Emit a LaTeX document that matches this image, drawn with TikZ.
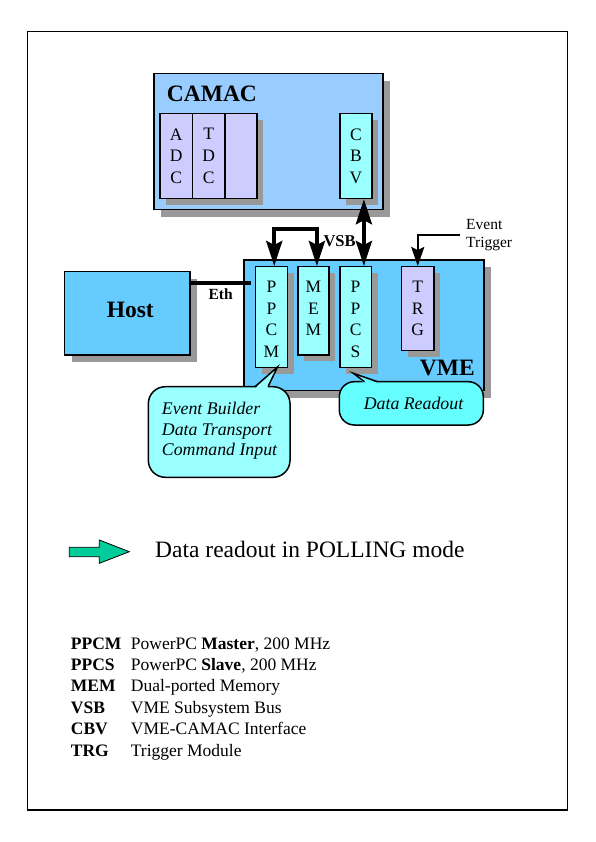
\documentclass[tikz,border=0pt]{standalone}
\usepackage{fontspec}
\setmainfont{Liberation Serif}
\usetikzlibrary{arrows.meta,shadows}
\definecolor{camacC}{HTML}{99CCFF}
\definecolor{vmeC}{HTML}{66CCFF}
\definecolor{lilaC}{HTML}{CCCCFF}
\definecolor{cyanC}{HTML}{99FFFF}
\definecolor{calloutC}{HTML}{66FFFF}
\definecolor{shadowC}{HTML}{999999}
\definecolor{greenC}{HTML}{00CC99}
\tikzset{
  box/.style={draw=black, line width=1.2pt, inner sep=0pt, anchor=north west},
  shd/.style={drop shadow={shadow xshift=6.5pt, shadow yshift=-6.5pt, fill=shadowC, opacity=1}},
  bigshd/.style={drop shadow={shadow xshift=7pt, shadow yshift=-7pt, fill=shadowC, opacity=1}},
  letters/.style={anchor=north, inner sep=0pt, align=center, font=\fontsize{17.5}{21.7}\selectfont},
  bus/.style={line width=4pt},
  bustip/.style={{Stealth[length=25pt,width=16pt,inset=4pt]}-{Stealth[length=25pt,width=16pt,inset=4pt]}},
  sig/.style={line width=2.2pt},
  calloutbox/.style={draw=black, line width=1.5pt, rounded corners=17pt},
  abbr/.style={anchor=base west, inner sep=0pt, font=\fontsize{17.5}{20}\selectfont\bfseries},
  desc/.style={anchor=base west, inner sep=0pt, font=\fontsize{17.5}{20}\selectfont},
}
\begin{document}
\begin{tikzpicture}[x=1pt,y=-1pt]
\useasboundingbox (0,0) rectangle (595,842);
\fill[white] (0,0) rectangle (595,842);
% outer frame
\draw[line width=1.3pt] (27.3,31.7) rectangle (567.3,810);

% CAMAC crate
\node[box, bigshd, fill=camacC, minimum width=229pt, minimum height=135.7pt] (camac) at (153.3,73.3) {};
\node[anchor=base west, inner sep=0pt, font=\fontsize{23.5}{27}\selectfont\bfseries] (camacL) at (166.7,101.7) {CAMAC};
\node[box, shd, fill=lilaC, minimum width=32.4pt, minimum height=84.7pt] (adc) at (159.3,113.3) {};
\node[box, shd, fill=lilaC, minimum width=32.6pt, minimum height=84.7pt] (tdc) at (191.7,113.3) {};
\node[box, shd, fill=lilaC, minimum width=32pt, minimum height=84.7pt] (blank) at (224.3,113.3) {};
\node[box, shd, fill=cyanC, minimum width=32pt, minimum height=84.7pt] (cbv) at (339.3,113.3) {};
\node[letters] (adcL) at ([yshift=-15pt]adc.north) {A\\D\\C};
\node[letters] (tdcL) at ([yshift=-15pt]tdc.north) {T\\D\\C};
\node[letters] (cbvL) at ([yshift=-15pt]cbv.north) {C\\B\\V};

% Host
\node[box, bigshd, fill=vmeC, minimum width=125.3pt, minimum height=83.3pt] (host) at (64,271) {};
\node[anchor=base, inner sep=0pt, font=\fontsize{23.5}{27}\selectfont\bfseries] (hostL) at (130.3,317.3) {Host};

% VME crate
\node[box, bigshd, fill=vmeC, minimum width=240pt, minimum height=130.7pt] (vme) at (243.3,259.3) {};
\node[anchor=base east, inner sep=0pt, font=\fontsize{23.5}{27}\selectfont\bfseries] (vmeL) at (475,375) {VME};
\node[box, shd, fill=cyanC, minimum width=31.7pt, minimum height=100.7pt] (ppcm) at (255,266) {};
\node[box, shd, fill=cyanC, minimum width=31pt, minimum height=88.3pt] (mem) at (297.3,266) {};
\node[box, shd, fill=cyanC, minimum width=31.4pt, minimum height=100.7pt] (ppcs) at (339.3,266) {};
\node[box, shd, fill=lilaC, minimum width=32.3pt, minimum height=84pt] (trg) at (401,266) {};
\node[letters] (ppcmL) at ([yshift=-14.7pt]ppcm.north) {P\\P\\C\\M};
\node[letters] (memL) at ([yshift=-14.7pt]mem.north) {M\\E\\M};
\node[letters] (ppcsL) at ([yshift=-14.7pt]ppcs.north) {P\\P\\C\\S};
\node[letters] (trgL) at ([yshift=-14.7pt]trg.north) {T\\R\\G};

% Ethernet
\coordinate (ethEnd) at (250.7,282.7);
\draw[bus] (host.east |- ethEnd) -- (ethEnd);
\node[anchor=base, inner sep=0pt, font=\fontsize{15.5}{18}\selectfont\bfseries] (ethL) at (220.7,299) {Eth};

% VSB bus
\draw[bus, bustip] ([xshift=2.8pt]ppcm.north) -- ++(0,-37.3) -| ([xshift=3.5pt]mem.north);
\node[anchor=base west, inner sep=0pt, font=\fontsize{16.5}{19}\selectfont\bfseries] (vsbL) at (323.3,246.7) {VSB};

% CBV - PPCS link
\draw[bus, bustip] ([xshift=8pt]cbv.south) -- ([xshift=8pt]cbv.south |- ppcs.north);

% Event trigger
\node[anchor=north west, inner sep=0pt, align=left, font=\fontsize{15.5}{18.3}\selectfont] (trigL) at (466,219.3) {Event\\Trigger};
\coordinate (trigStart) at (460,235);
\draw[sig, -{Stealth[length=19pt,width=13pt,inset=3pt]}] (trigStart) -| (trg.north);

% Callout left
\draw[calloutbox, fill=cyanC] (148.3,386.7) rectangle (290,477.3);
\fill[cyanC] (255.5,388) -- (277.5,367) -- (267.5,388) -- cycle;
\draw[line width=1.5pt, line join=miter] (255,386.7) -- (277.5,367) -- (268,386.7);
\node[anchor=north west, inner sep=0pt, align=left, font=\fontsize{17.8}{20.8}\selectfont\itshape] (cb1) at (161.7,401.7) {Event Builder\\Data Transport\\Command Input};

% Callout right
\draw[calloutbox, rounded corners=15pt, fill=calloutC] (339.3,381.7) rectangle (483.3,425);
\fill[calloutC] (364,383) -- (353.3,373.3) -- (378,383) -- cycle;
\draw[line width=1.5pt, line join=miter] (364.5,381.7) -- (353.3,373.3) -- (377.5,381.7);
\node[anchor=base, inner sep=0pt, font=\fontsize{17.8}{20}\selectfont\itshape] (cb2) at (413.5,409.3) {Data Readout};

% Polling arrow
\draw[line width=0.8pt, fill=greenC, line join=miter] (69.3,547.3) -- (99.3,547.3) -- (99.3,540) -- (129.3,551.7) -- (99.3,563.3) -- (99.3,556.7) -- (69.3,556.7) -- cycle;
\node[anchor=base west, inner sep=0pt, font=\fontsize{23.5}{27}\selectfont] (pollL) at (155,557.3) {Data readout in POLLING mode};

% Legend
\node[abbr] (ab1) at (70.7,649) {PPCM};
\node[desc] (de1) at (130.7,649) {PowerPC \textbf{Master}, 200 MHz};
\node[abbr] (ab2) at (70.7,670.4) {PPCS};
\node[desc] (de2) at (130.7,670.4) {PowerPC \textbf{Slave}, 200 MHz};
\node[abbr] (ab3) at (70.7,691.8) {MEM};
\node[desc] (de3) at (130.7,691.8) {Dual-ported Memory};
\node[abbr] (ab4) at (70.7,713.2) {VSB};
\node[desc] (de4) at (130.7,713.2) {VME Subsystem Bus};
\node[abbr] (ab5) at (70.7,734.6) {CBV};
\node[desc] (de5) at (130.7,734.6) {VME-CAMAC Interface};
\node[abbr] (ab6) at (70.7,756) {TRG};
\node[desc] (de6) at (130.7,756) {Trigger Module};
\end{tikzpicture}
\end{document}
